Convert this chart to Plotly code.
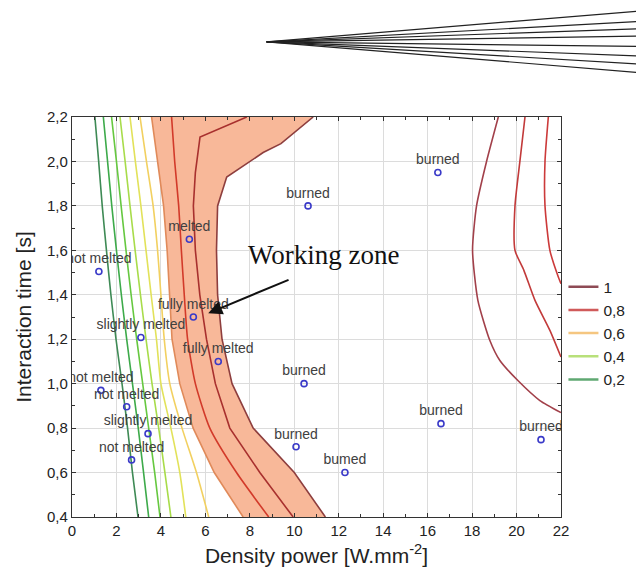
import plotly.graph_objects as go

# ---------------- data ----------------
y_levels = [2.2, 2.0, 1.8, 1.6, 1.4, 1.2, 1.0, 0.8, 0.6, 0.4]

# left family of contour lines (x at each y level)
line_dark_green = [1.03, 1.20, 1.36, 1.55, 1.75, 1.98, 2.25, 2.50, 2.72, 2.97]
line_green = [1.41, 1.60, 1.79, 2.00, 2.22, 2.46, 2.72, 2.98, 3.22, 3.45]
line_mid_green = [1.78, 2.00, 2.21, 2.43, 2.66, 2.91, 3.18, 3.45, 3.72, 3.96]
line_light_green = [2.16, 2.39, 2.61, 2.84, 3.08, 3.33, 3.60, 3.90, 4.18, 4.45]
line_yellow_green = [2.61, 2.85, 3.10, 3.33, 3.56, 3.80, 4.00, 4.45, 4.85, 5.12]
line_yellow = [3.06, 3.35, 3.65, 3.85, 4.00, 4.15, 4.40, 4.95, 5.60, 6.15]

# working zone band
band_left_x = [3.58, 3.85, 4.12, 4.28, 4.38, 4.50, 4.85, 5.45, 6.40, 7.70]
band_left_y = y_levels
band_right_x = [10.85, 9.40, 8.60, 6.96, 6.55, 6.50, 6.55, 6.75, 7.20, 8.15, 10.00, 11.40]
band_right_y = [2.20, 2.08, 2.04, 1.93, 1.80, 1.60, 1.40, 1.20, 1.00, 0.80, 0.60, 0.40]

# lines inside the band
red_line_x = [4.48, 4.62, 4.80, 4.92, 5.05, 5.20, 5.55, 6.20, 7.40, 8.85]
red_line_y = y_levels
darkred_line_x = [7.86, 5.76, 5.55, 5.46, 5.55, 5.75, 6.05, 6.45, 7.10, 8.45, 9.95]
darkred_line_y = [2.20, 2.11, 1.95, 1.80, 1.60, 1.40, 1.20, 1.00, 0.80, 0.60, 0.40]

# right-hand contour lines
right_a_x = [19.18, 18.65, 18.20, 18.02, 18.26, 18.80, 19.25, 20.06, 21.05, 22.00]
right_a_y = [2.20, 2.00, 1.80, 1.60, 1.375, 1.194, 1.104, 1.014, 0.924, 0.87]
right_b_x = [20.38, 20.15, 19.93, 19.93, 20.33, 20.83, 21.50, 22.00]
right_b_y = [2.20, 2.00, 1.80, 1.60, 1.51, 1.375, 1.24, 1.12]
right_c_x = [21.43, 21.28, 21.28, 21.50, 21.88, 22.00]
right_c_y = [2.20, 2.00, 1.80, 1.60, 1.48, 1.45]

# experimental points
pt_x = [1.21, 5.28, 5.46, 3.10, 6.58, 1.30, 2.46, 3.42, 2.68,
        10.62, 16.46, 10.44, 10.08, 12.28, 16.60, 21.10]
pt_y = [1.505, 1.65, 1.30, 1.208, 1.10, 0.97, 0.896, 0.775, 0.657,
        1.80, 1.95, 1.00, 0.716, 0.60, 0.82, 0.748]
pt_labels = ["not melted", "melted", "fully melted", "slightly melted", "fully melted",
             "not melted", "not melted", "slightly melted", "not melted",
             "burned", "burned", "burned", "burned", "bumed", "burned", "burned"]

legend_labels = ["1", "0,8", "0,6", "0,4", "0,2"]
legend_colors = ["#8E4B55", "#D05A5A", "#F5C680", "#B8E07A", "#5FA872"]

x_ticks = list(range(0, 23, 2))

# ---------------- figure ----------------
fig = go.Figure()

band_x = band_left_x + band_right_x[::-1]
band_y = band_left_y + band_right_y[::-1]
fig.add_trace(go.Scatter(x=band_x, y=band_y, fill="toself", fillcolor="#F8B899",
                         mode="lines", line=dict(width=0), hoverinfo="skip", showlegend=False))

def add_line(x, y, color, width=1.6, shape="spline"):
    fig.add_trace(go.Scatter(x=x, y=y, mode="lines",
                             line=dict(color=color, width=width, shape=shape, smoothing=0.6),
                             hoverinfo="skip", showlegend=False))

add_line(line_dark_green, y_levels, "#3E8A55")
add_line(line_green, y_levels, "#3DAA4A")
add_line(line_mid_green, y_levels, "#66C840")
add_line(line_light_green, y_levels, "#A8DC4A")
add_line(line_yellow_green, y_levels, "#E2E25A")
add_line(line_yellow, y_levels, "#F2D060")
add_line(band_left_x, band_left_y, "#E08A5A", shape="linear")
add_line(band_right_x, band_right_y, "#8E3E3E", shape="linear")
add_line(red_line_x, red_line_y, "#D23A2A")
add_line(darkred_line_x, darkred_line_y, "#A8302E", shape="linear")
add_line(right_a_x, right_a_y, "#A2404A")
add_line(right_b_x, right_b_y, "#C23A3A")
add_line(right_c_x, right_c_y, "#CC3A3A")

fig.add_trace(go.Scatter(
    x=pt_x, y=pt_y, mode="markers+text", text=pt_labels, textposition="top center",
    textfont=dict(family="Liberation Sans", size=14, color="#404040"),
    marker=dict(symbol="circle-open", size=6, color="#3A3AC8", line=dict(width=1.6)),
    cliponaxis=True, hoverinfo="skip", showlegend=False))

for lab, col in zip(legend_labels, legend_colors):
    fig.add_trace(go.Scatter(x=[None], y=[None], mode="lines", name=lab,
                             line=dict(color=col, width=2.5)))

# "Working zone" text and arrow
fig.add_annotation(x=11.34, y=1.58, text="Working zone", showarrow=False,
                   font=dict(family="Liberation Serif", size=27, color="#111"))
fig.add_annotation(x=6.13, y=1.317, ax=9.81, ay=1.47, axref="x", ayref="y",
                   text="", showarrow=True, arrowhead=2, arrowsize=1.4,
                   arrowwidth=2, arrowcolor="#111")

# decorative fan of lines at the top of the picture
fan_ends = [1.268, 1.241, 1.222, 1.203, 1.176, 1.151, 1.130, 1.108]
for ye in fan_ends:
    fig.add_shape(type="line", xref="paper", yref="paper",
                  x0=0.398, y0=1.188, x1=1.19, y1=ye,
                  line=dict(color="#222", width=1.2))

axis_common = dict(showline=True, linecolor="#333", linewidth=1.2, mirror="ticks",
                   ticks="inside", ticklen=4, tickcolor="#333",
                   showgrid=True, gridcolor="#dcdcdc", gridwidth=1, zeroline=False,
                   tickfont=dict(family="Liberation Sans", size=15, color="#222"))

fig.update_layout(
    width=644, height=573, autosize=False,
    margin=dict(l=64, r=91, t=109, b=64),
    paper_bgcolor="white", plot_bgcolor="white",
    separators=", ",
    xaxis=dict(range=[0, 22], tickvals=x_ticks, **axis_common,
               minor=dict(ticks="inside", ticklen=3, dtick=1, tickcolor="#333", showgrid=False),
               title=dict(text="Density power [W.mm<sup>-2</sup>]", standoff=10,
                          font=dict(family="Liberation Sans", size=21, color="#222"))),
    yaxis=dict(range=[0.4, 2.2], tick0=0.4, dtick=0.2, tickformat=".1f", **axis_common,
               minor=dict(ticks="inside", ticklen=3, dtick=0.1, tickcolor="#333", showgrid=False),
               title=dict(text="Interaction time [s]", standoff=9,
                          font=dict(family="Liberation Sans", size=21, color="#222"))),
    legend=dict(x=1.005, y=0.617, xanchor="left", yanchor="top",
                font=dict(family="Liberation Sans", size=15.5, color="#222"),
                bgcolor="rgba(0,0,0,0)", tracegroupgap=0),
    showlegend=True,
)

fig.write_html("out.html")
